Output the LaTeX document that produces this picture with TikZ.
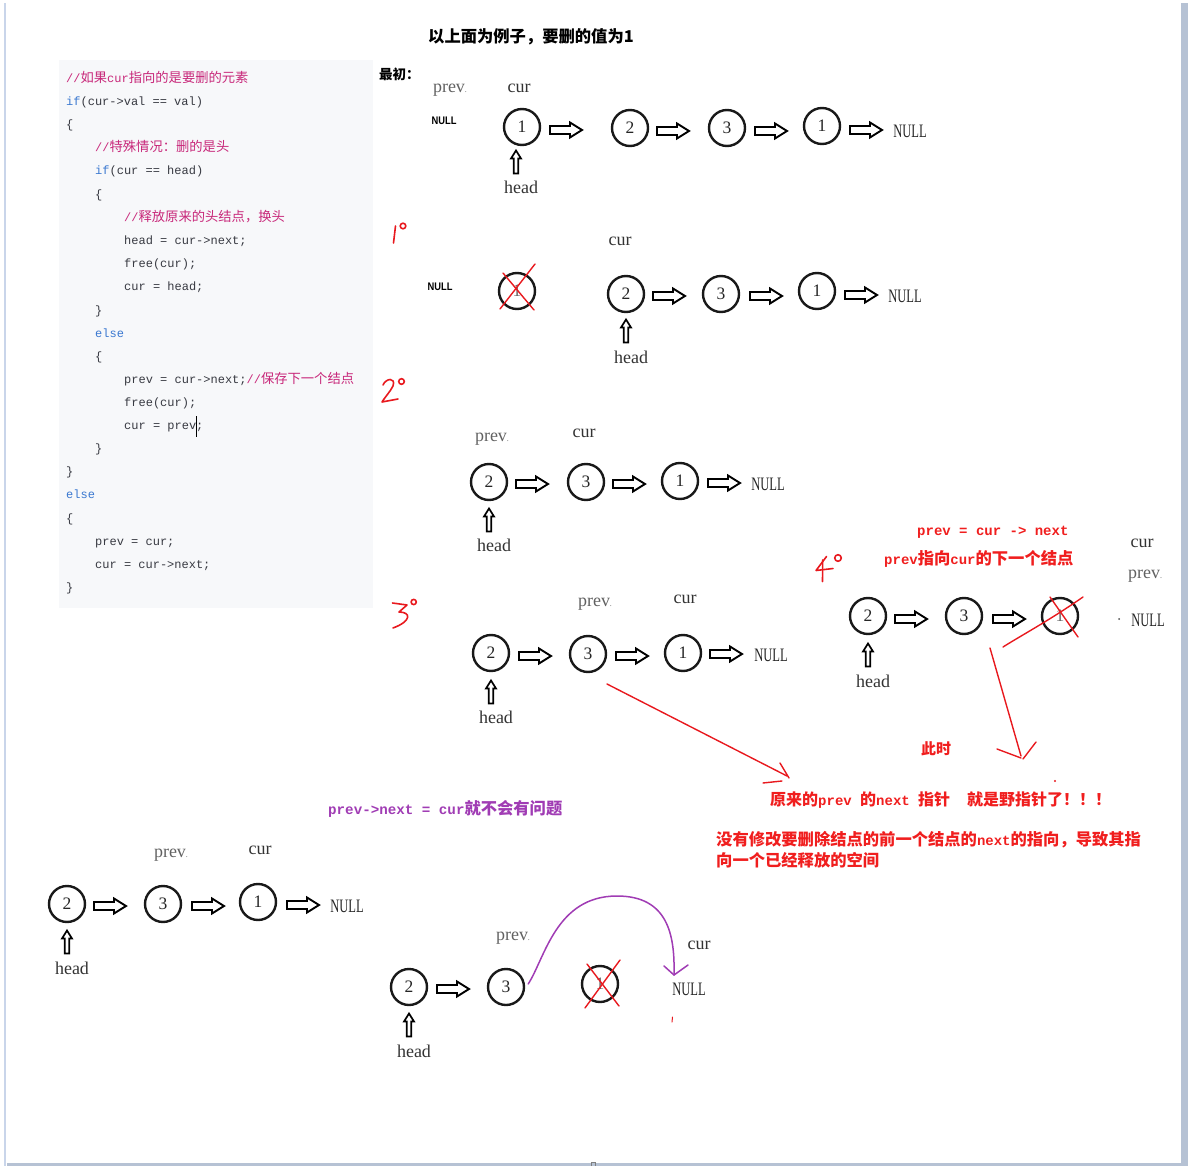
\documentclass[tikz,border=0pt]{standalone}
\usepackage{fontspec}
\usetikzlibrary{calc}
\newfontfamily\cjk{Noto Sans CJK SC}
\newfontfamily\serf{Liberation Serif}
\newfontfamily\lmono{Liberation Mono}
\newfontfamily\lsans{Liberation Sans}
\definecolor{cmt}{HTML}{C8287A}
\definecolor{kwc}{HTML}{3A78D0}
\definecolor{codec}{HTML}{383A42}
\definecolor{codebg}{HTML}{F7F8FA}
\definecolor{penred}{HTML}{E8191E}
\definecolor{rtx}{HTML}{F01E1E}
\definecolor{purp}{HTML}{A03CB4}
\definecolor{bord}{HTML}{B6C2D4}
\definecolor{bordl}{HTML}{C9D5EA}
\newcommand\fs[1]{\fontsize{#1}{#1}\selectfont}
\newcommand\cz[1]{{\cjk\fs{13.3}#1}}
\newcommand\kw[1]{{\color{kwc}#1}}
\newcommand\mb[1]{{\lmono\bfseries\fs{14}#1}}
\newcommand\pv{prev{\fs{8}.}}
\newcommand\NL{\scalebox{0.66}[1]{NULL}}
\newcommand\NB{\scalebox{0.85}[1]{NULL}}
\begin{document}
\begin{tikzpicture}[x=1pt,y=-1pt,
 nd/.style={circle,draw=black!90,line width=2.4pt,minimum size=36pt,inner sep=0pt,font=\serf\fs{17.5},text=black!85},
 lbl/.style={inner sep=0pt,font=\serf\fs{18},text=black!80},
 pvl/.style={lbl,text=black!62},
 nul/.style={inner sep=0pt,font=\serf\fs{19},text=black!85},
 nulb/.style={inner sep=0pt,font=\lsans\bfseries\fs{11},text=black},
 codeline/.style={anchor=base west,inner sep=0pt,font=\lmono\fs{12},text=codec},
 rtxt/.style={anchor=west,inner sep=0pt,text=rtx,font=\cjk\bfseries\fs{16}},
 redpen/.style={draw=penred,line width=1.6pt,line cap=round,line join=round},
 redx/.style={draw=penred,line width=1.4pt,line cap=round},
 purpline/.style={draw=purp,line width=1.5pt,line cap=round,line join=round},
 pics/harr/.style={code={\draw[line width=1.9pt,line join=miter] (-16,-4) -- (4,-4) -- (4,-7.5) -- (16,0) -- (4,7.5) -- (4,4) -- (-16,4) -- cycle;}},
 pics/uarr/.style={code={\draw[line width=1.7pt,line join=miter] (-2.3,11.5) -- (-2.3,-3.5) -- (-5,-3.5) -- (0,-11.5) -- (5,-3.5) -- (2.3,-3.5) -- (2.3,11.5) -- cycle;}}
]
\useasboundingbox (0,0) rectangle (1189,1166);
% frame
\fill[bordl] (3.5,3) rectangle (5.5,1166);
\fill[bord] (1181,3) rectangle (1188,1166);
\fill[bord] (7,1162.5) rectangle (1181,1166);
\draw[gray,line width=0.6pt] (591,1162.5) rectangle (595,1166);

% code block
\fill[codebg] (59,60) rectangle (373,608);
\node[codeline] (c1) at (66,82.5) {\color{cmt}//\cz{如果}cur\cz{指向的是要删的元素}};
\node[codeline] (c2) at (66,105.5) {\kw{if}(cur->val == val)};
\node[codeline] (c3) at (66,128.5) {\{};
\node[codeline] (c4) at (95,151.5) {\color{cmt}//\cz{特殊情况：删的是头}};
\node[codeline] (c5) at (95,174.5) {\kw{if}(cur == head)};
\node[codeline] (c6) at (95,198.5) {\{};
\node[codeline] (c7) at (124,221.5) {\color{cmt}//\cz{释放原来的头结点，换头}};
\node[codeline] (c8) at (124,244.5) {head = cur->next;};
\node[codeline] (c9) at (124,267.5) {free(cur);};
\node[codeline] (c10) at (124,290.5) {cur = head;};
\node[codeline] (c11) at (95,314.5) {\}};
\node[codeline] (c12) at (95,337.5) {\kw{else}};
\node[codeline] (c13) at (95,360.5) {\{};
\node[codeline] (c14) at (124,383.5) {prev = cur->next;{\color{cmt}//\cz{保存下一个结点}}};
\node[codeline] (c15) at (124,406.5) {free(cur);};
\node[codeline] (c16) at (124,429.5) {cur = prev;};
\node[codeline] (c17) at (95,452.5) {\}};
\node[codeline] (c18) at (66,475.5) {\}};
\node[codeline] (c19) at (66,498.5) {\kw{else}};
\node[codeline] (c20) at (66,522.5) {\{};
\node[codeline] (c21) at (95,545.5) {prev = cur;};
\node[codeline] (c22) at (95,568.5) {cur = cur->next;};
\node[codeline] (c23) at (66,591.5) {\}};
\draw[line width=0.7pt,black] (196.8,416) -- (196.8,437);

% titles
\node[anchor=west,inner sep=0pt,font=\cjk\bfseries\fs{16.3}] (title) at (428,37) {以上面为例子，要删的值为1};
\node[anchor=west,inner sep=0pt,font=\cjk\bfseries\fs{13.5}] (init) at (379,74) {最初：};

% red step numbers
\draw[redpen] (395.5,226) -- (393.5,243);
\draw[redpen] (403,226) circle (2.8);
\draw[redpen] (383,385) .. controls (386,378) and (396,377) .. (393,386) .. controls (390,392) and (385,397) .. (382,402) -- (398,399);
\draw[redpen] (401.5,381.5) circle (2.8);
\draw[redpen] (392.5,603) -- (407,605) -- (399,612) .. controls (411,612) and (412,621) .. (393,628);
\draw[redpen] (413.7,602) circle (2.6);
\draw[redpen] (826.5,556.5) -- (816,570.5) -- (833,568.5);
\draw[redpen] (822.7,560) -- (822.5,581.5);
\draw[redpen] (838,558) circle (3.3);

% row 0
\node[pvl] (p0) at (450,90) {\pv};
\node[lbl] (u0) at (519,88) {cur};
\node[nulb] (nb0) at (444,121) {\NB};
\node[nd] (a1) at (522,127) {1};
\node[nd] (a2) at (630,128) {2};
\node[nd] (a3) at (727,128) {3};
\node[nd] (a4) at (822,126) {1};
\node[nul] (an) at (910,131) {\NL};
\pic at (566,130) {harr};
\pic at (673,131) {harr};
\pic at (771,131) {harr};
\pic at (866,130) {harr};
\pic at (516,162) {uarr};
\node[lbl] (h0) at (521,187) {head};

% row 1
\node[lbl] (u1) at (620,241) {cur};
\node[nulb] (nb1) at (440,287) {\NB};
\node[nd,text=black!60] (b1) at (517,291) {1};
\node[nd] (b2) at (626,294) {2};
\node[nd] (b3) at (721,294) {3};
\node[nd] (b4) at (817,291) {1};
\node[nul] (bn) at (905,296) {\NL};
\pic at (669,296) {harr};
\pic at (766,296) {harr};
\pic at (861,295) {harr};
\pic at (626,331) {uarr};
\node[lbl] (h1) at (631,357) {head};
\draw[redx] (535,264) -- (500,309);
\draw[redx] (503,273) -- (534,310);

% row 2
\node[pvl] (p2) at (492,439) {\pv};
\node[lbl] (u2) at (584,433) {cur};
\node[nd] (c2a) at (489,482) {2};
\node[nd] (c2b) at (586,482) {3};
\node[nd] (c2c) at (680,481) {1};
\node[nul] (c2n) at (768,484) {\NL};
\pic at (532,484) {harr};
\pic at (629,484) {harr};
\pic at (724,483) {harr};
\pic at (489,520) {uarr};
\node[lbl] (h2) at (494,545) {head};

% row 3
\node[pvl] (p3) at (595,604) {\pv};
\node[lbl] (u3) at (685,599) {cur};
\node[nd] (e1) at (491,653) {2};
\node[nd] (e2) at (588,654) {3};
\node[nd] (e3) at (683,653) {1};
\node[nul] (en) at (771,655) {\NL};
\pic at (535,656) {harr};
\pic at (632,656) {harr};
\pic at (726,654) {harr};
\pic at (491,692) {uarr};
\node[lbl] (h3) at (496,717) {head};

% row 4
\node[rtxt,font=\cjk\bfseries\fs{14}] (t1) at (917,532) {\mb{prev = cur -> next}};
\node[rtxt,font=\cjk\bfseries\fs{16.3}] (t2) at (884,559) {{\lmono\bfseries\fs{14}prev}指向{\lmono\bfseries\fs{14}cur}的下一个结点};
\node[lbl] (u4) at (1142,543) {cur};
\node[pvl] (p4) at (1145,576) {\pv};
\node[nd] (d1) at (868,616) {2};
\node[nd] (d2) at (964,616) {3};
\node[nd,text=black!60] (d3) at (1060,616) {1};
\fill[black!70] (1119,619) circle (1);
\node[nul] (dn) at (1148,620) {\NL};
\pic at (911,619) {harr};
\pic at (1009,619) {harr};
\pic at (868,655) {uarr};
\node[lbl] (h4) at (873,681) {head};
\draw[redx] (1050,597) -- (1078,637);
\draw[redx] (1083,597) .. controls (1050,620) and (1022,635) .. (1003,647);

% red pointers
\coordinate (w1s) at (607,684);
\coordinate (w1e) at (787,776);
\draw[redx] (w1s) -- (w1e);
\draw[redx] (780,763) -- (789,778);
\draw[redx] (763,783) -- (782,781);
\coordinate (w2s) at (990,648);
\coordinate (w2e) at (1021,756);
\draw[redx] (w2s) -- (w2e);
\draw[redx] (997,749) -- (1021,758);
\draw[redx] (1036,742) -- (1023,759);
\fill[penred] (1055,781) circle (1.2);

\node[rtxt,font=\cjk\bfseries\fs{15}] (t3) at (921,749) {此时};
\node[rtxt] (t4) at (770,800) {原来的\mb{prev }的\mb{next }指针\mb{\ \ }就是野指针了！！！};
\node[rtxt,font=\cjk\bfseries\fs{16.3}] (t5) at (716,840) {没有修改要删除结点的前一个结点的\mb{next}的指向，导致其指};
\node[rtxt,font=\cjk\bfseries\fs{16.3}] (t6) at (716,860) {向一个已经释放的空间};

% purple note
\node[rtxt,text=purp,font=\cjk\bfseries\fs{16.3}] (pt) at (328,809) {{\lmono\bfseries\fs{14.2}prev->next = cur}就不会有问题};

% row 5
\node[pvl] (p5) at (171,855) {\pv};
\node[lbl] (u5) at (260,850) {cur};
\node[nd] (f1) at (67,904) {2};
\node[nd] (f2) at (163,904) {3};
\node[nd] (f3) at (258,902) {1};
\node[nul] (fn) at (347,906) {\NL};
\pic at (110,906) {harr};
\pic at (208,906) {harr};
\pic at (303,905) {harr};
\pic at (67,942) {uarr};
\node[lbl] (h5) at (72,968) {head};

% row 6
\node[pvl] (p6) at (513,938) {\pv};
\node[lbl] (u6) at (699,945) {cur};
\node[nd] (g1) at (409,987) {2};
\node[nd] (g2) at (506,987) {3};
\node[nd,text=black!60] (g3) at (600,984) {1};
\node[nul] (gn) at (689,989) {\NL};
\pic at (453,989) {harr};
\pic at (409,1025) {uarr};
\node[lbl] (h6) at (414,1051) {head};
\draw[redx] (620,960) -- (585,1008);
\draw[redx] (587,964) -- (619,1006);
\draw[redx,line width=1pt] (672.5,1017) -- (672,1022);
\coordinate (pe) at (674,975);
\draw[purpline] ($(g2.east)+(3,-3)$) .. controls (545,958) and (556,896) .. (617,896) .. controls (668,896) and (675,935) .. (pe);
\draw[purpline] (664,966) -- (pe) -- (688,965);
\end{tikzpicture}
\end{document}
